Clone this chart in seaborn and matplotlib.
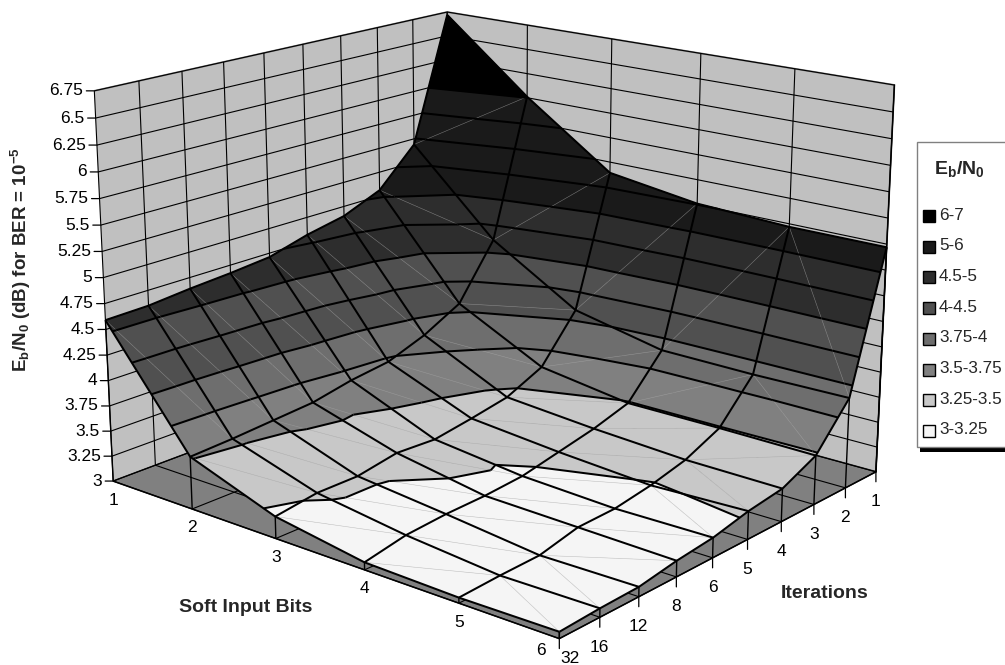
import numpy as np
import seaborn as sns
import matplotlib
matplotlib.use('Agg')
import matplotlib.pyplot as plt
from matplotlib.patches import Rectangle
from mpl_toolkits.mplot3d import proj3d
from mpl_toolkits.mplot3d.art3d import Poly3DCollection, Line3DCollection

# Axis categories
soft_bits = [1, 2, 3, 4, 5, 6]
iterations = [32, 16, 12, 8, 6, 5, 4, 3, 2, 1]
z_ticks = [3, 3.25, 3.5, 3.75, 4, 4.25, 4.5, 4.75, 5, 5.25, 5.5, 5.75, 6, 6.25, 6.5, 6.75]

# Eb/N0, one list per soft input bit, iterations as above
bits_1 = [4.59, 4.60, 4.64, 4.67, 4.71, 4.82, 4.90, 5.06, 5.44, 6.72]
bits_2 = [3.51, 3.53, 3.56, 3.59, 3.67, 3.72, 3.86, 4.06, 4.61, 6.01]
bits_3 = [3.21, 3.27, 3.27, 3.34, 3.32, 3.38, 3.45, 3.62, 4.08, 5.39]
bits_4 = [3.07, 3.15, 3.18, 3.19, 3.22, 3.30, 3.38, 3.49, 3.89, 5.26]
bits_5 = [3.05, 3.07, 3.08, 3.17, 3.18, 3.24, 3.33, 3.49, 3.88, 5.22]
bits_6 = [3.06, 3.08, 3.09, 3.15, 3.19, 3.27, 3.32, 3.48, 3.89, 5.22]

# Legend bands, low to high
band_edges = [3, 3.25, 3.5, 3.75, 4, 4.5, 5, 6, 7]
band_labels = ['3-3.25', '3.25-3.5', '3.5-3.75', '3.75-4', '4-4.5', '4.5-5', '5-6', '6-7']
band_colors = ['#f5f5f5', '#c8c8c8', '#808080', '#6e6e6e', '#505050', '#2d2d2d', '#1a1a1a', '#000000']

sns.set_theme(style='white', rc={'grid.color': 'black', 'grid.linewidth': 0.8,
                                 'mathtext.fontset': 'custom',
                                 'mathtext.rm': 'Liberation Sans',
                                 'mathtext.bf': 'Liberation Sans:bold',
                                 'mathtext.default': 'bf'})
plt.rcParams['font.family'] = ['Liberation Sans', 'DejaVu Sans']
palette = sns.color_palette(band_colors)

Z = np.array([bits_1, bits_2, bits_3, bits_4, bits_5, bits_6])
nx, ny = Z.shape
X, Y = np.meshgrid(np.arange(nx), np.arange(ny), indexing='ij')

W, H = 1005, 665
fig = plt.figure(figsize=(W / 100, H / 100), dpi=100)
ax = fig.add_axes([0, 0, 1, 1], projection='3d')
ax.computed_zorder = False
ax.set_xlim(0, nx - 1, view_margin=0)
ax.set_ylim(0, ny - 1, view_margin=0)
ax.set_zlim(3, 6.75, view_margin=0)
ax.view_init(elev=17.207, azim=-50.01)
ax.set_box_aspect((1.4312, 1.2835, 1.0))
ax.set_proj_type('persp', focal_length=0.5445)

# move the axes so the box lands where it sits in the chart
view_scale, view_x0, view_y0 = 4621.7, 496.37, H - 286.79
ax.apply_aspect()
p0 = ax.transData.transform((0, 0))
p1 = ax.transData.transform((0.01, 0))
cur = (p1[0] - p0[0]) / 0.01
bb = ax.bbox
side = bb.width * view_scale / cur
left = view_x0 - (p0[0] - bb.x0) / bb.width * side
bottom = view_y0 - (p0[1] - bb.y0) / bb.height * side
ax.set_position([left / W, bottom / H, side / W, side / H])
ax.apply_aspect()

# walls and floor
for axis, col in ((ax.xaxis, '#c0c0c0'), (ax.yaxis, '#c0c0c0'), (ax.zaxis, '#808080')):
    axis.set_pane_color(col)
    axis.pane.set_edgecolor('#808080')
    axis.pane.set_linewidth(1.3)
    axis.line.set_color('black')
    axis.line.set_linewidth(1.0)
    axis._axinfo['tick']['inward_factor'] = 0
    axis._axinfo['tick']['outward_factor'] = 0
ax.set_xticks(range(nx))
ax.set_yticks(range(ny))
ax.set_zticks(z_ticks)
ax.set_xticklabels([])
ax.set_yticklabels([])
ax.set_zticklabels([])


def clip_poly(poly, lo, hi):
    # keep the part of a polygon between two heights
    for level, sign in ((lo, 1), (hi, -1)):
        out = []
        for k in range(len(poly)):
            a, b = poly[k], poly[(k + 1) % len(poly)]
            da, db = sign * (a[2] - level), sign * (b[2] - level)
            if da >= 0:
                out.append(a)
            if da * db < 0:
                t = da / (da - db)
                out.append(tuple(a[m] + t * (b[m] - a[m]) for m in range(3)))
        poly = out
        if not poly:
            break
    return poly


def cross_level(tri, level):
    pts = []
    for k in range(3):
        a, b = tri[k], tri[(k + 1) % 3]
        if (a[2] - level) * (b[2] - level) < 0:
            t = (level - a[2]) / (b[2] - a[2])
            pts.append(tuple(a[m] + t * (b[m] - a[m]) for m in range(3)))
    return pts if len(pts) == 2 else None


polys, poly_cols, contour_segs, diag_segs = [], [], [], []
for i in range(nx - 1):
    for j in range(ny - 1):
        c00 = (i, j, Z[i, j])
        c10 = (i + 1, j, Z[i + 1, j])
        c01 = (i, j + 1, Z[i, j + 1])
        c11 = (i + 1, j + 1, Z[i + 1, j + 1])
        # split each cell along its flatter diagonal
        if abs(c00[2] - c11[2]) < abs(c10[2] - c01[2]):
            tris = [(c00, c10, c11), (c00, c11, c01)]
            diag_segs.append([c00, c11])
        else:
            tris = [(c00, c10, c01), (c10, c11, c01)]
            diag_segs.append([c10, c01])
        for tri in tris:
            for b in range(len(band_labels)):
                part = clip_poly(list(tri), band_edges[b], band_edges[b + 1])
                if len(part) >= 3:
                    polys.append(part)
                    poly_cols.append(palette[b])
            for level in z_ticks[1:]:
                seg = cross_level(tri, level)
                if seg:
                    contour_segs.append(seg)

surf = Poly3DCollection(polys, facecolors=poly_cols, edgecolors=poly_cols, linewidths=0.4, zorder=2)
ax.add_collection3d(surf)
ax.add_collection3d(Line3DCollection(diag_segs, colors='#a8a8a8', linewidths=0.4, alpha=0.6, zorder=3))
ax.add_collection3d(Line3DCollection(contour_segs, colors='black', linewidths=1.45, zorder=4))
ax.plot_wireframe(X, Y, Z, rstride=1, cstride=1, color='black', linewidth=1.45, zorder=4)

# drop lines from the two front edges
drops = [[(i, 0, 3), (i, 0, Z[i, 0])] for i in range(nx)]
drops += [[(nx - 1, j, 3), (nx - 1, j, Z[nx - 1, j])] for j in range(ny)]
ax.add_collection3d(Line3DCollection(drops, colors='black', linewidths=1.0, zorder=1))


def put_tick(x3, y3, z3, label, tick, off, **kw):
    M = ax.get_proj()
    tx, ty, _ = proj3d.proj_transform(x3, y3, z3, M)
    if tick != (0, 0):
        ax.annotate('', xy=(tx, ty), xycoords='data', xytext=tick, textcoords='offset pixels',
                    arrowprops=dict(arrowstyle='-', color='black', lw=0.9, shrinkA=0, shrinkB=0),
                    annotation_clip=False, zorder=5)
    ax.annotate(str(label), xy=(tx, ty), xycoords='data', xytext=off, textcoords='offset pixels',
                fontsize=12.5, color='black', annotation_clip=False, va='center', zorder=6, **kw)


for z in z_ticks:
    put_tick(0, 0, z, f'{z:g}', (-8, 0), (-11, 0), ha='right')
for i, b in enumerate(soft_bits):
    put_tick(i, 0, 3, b, (0, 0), (-18, -12) if b == 6 else (0, -19), ha='center')
for j, it in enumerate(iterations):
    put_tick(nx - 1, j, 3, it, (0, -10), (11, -20) if it == 32 else (0, -30), ha='center')

# overlay in pixel coordinates for titles and the legend box
lg = fig.add_axes([0, 0, 1, 1])
lg.set_xlim(0, W)
lg.set_ylim(H, 0)
lg.axis('off')
lg.patch.set_visible(False)

lg.text(21, 260, r'$E_b/N_0$ (dB) for BER = $10^{-5}$', rotation=90, ha='center', va='center',
        fontsize=13.5, fontweight='bold')
lg.text(246, 608, 'Soft Input Bits', ha='center', va='center', fontsize=14, fontweight='bold')
lg.text(825, 594, 'Iterations', ha='center', va='center', fontsize=14, fontweight='bold')

lg.add_patch(Rectangle((920, 447), 90, 5, facecolor='black', edgecolor='none'))
lg.add_patch(Rectangle((917, 142), 95, 305, facecolor='white', edgecolor='#808080', linewidth=1.0))
lg.text(959, 169, r'$E_b/N_0$', ha='center', va='center', fontsize=14, fontweight='bold')
for k, (lab, col) in enumerate(zip(band_labels[::-1], palette[::-1])):
    y = 216 + k * 30.7
    lg.add_patch(Rectangle((923, y - 6), 12, 12, facecolor=col, edgecolor='black', linewidth=1.0))
    lg.text(939, y - 1, lab, ha='left', va='center', fontsize=12.3)

fig.savefig('out.png', dpi=100)
